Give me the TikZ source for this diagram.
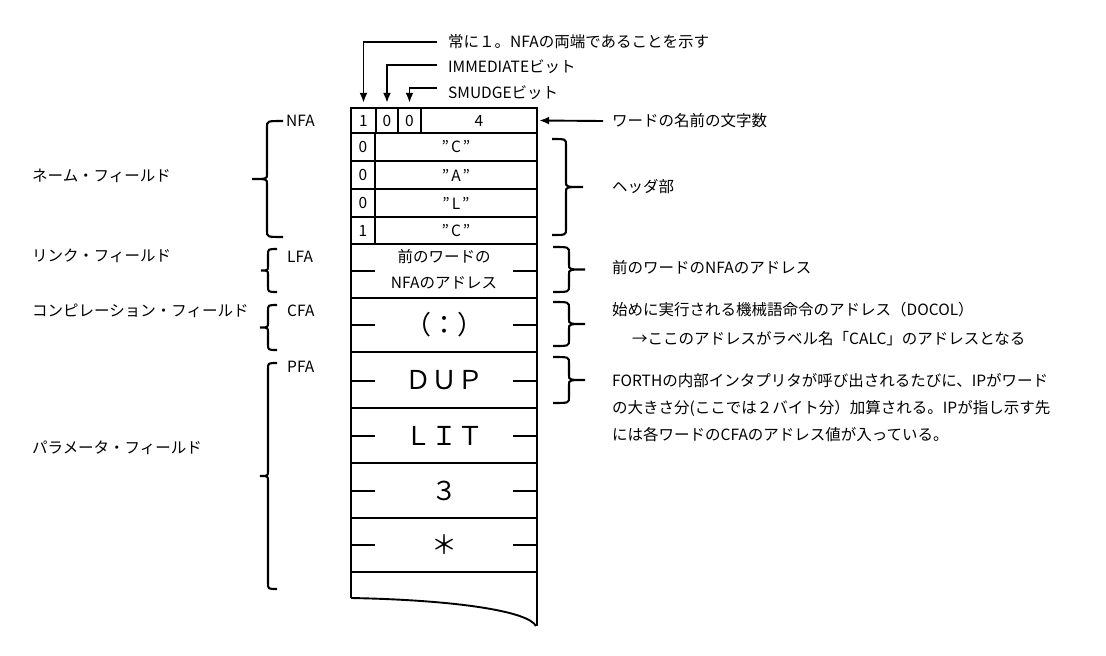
\documentclass[tikz,border=0pt]{standalone}
\usepackage{fontspec}
\setmainfont{Noto Sans CJK JP}
\usetikzlibrary{arrows.meta}
\newcommand\BrLeft[5]{% x, top, bottom, tip x, hook x
  \draw[brc] (#5,#2) .. controls (#1,#2) .. (#1,#2+6) -- (#1,{(#2+#3)/2-5})
    .. controls (#1,{(#2+#3)/2}) .. (#4,{(#2+#3)/2})
    .. controls (#1,{(#2+#3)/2}) .. (#1,{(#2+#3)/2+5}) -- (#1,#3-6)
    .. controls (#1,#3) .. (#5,#3);}
\begin{document}
\begin{tikzpicture}[x=1pt,y=-1pt,
  tbl/.style={line width=2.3pt},
  arr/.style={line width=1.9pt,-{Latex[length=10pt,width=8pt]}},
  brc/.style={line width=2.1pt},
  lbl/.style={font=\fontsize{15.5}{18}\selectfont,inner sep=0pt,anchor=west},
  cell/.style={font=\fontsize{15.5}{18}\selectfont,inner sep=0pt},
  big/.style={font=\fontsize{26}{30}\selectfont,inner sep=0pt}]
\useasboundingbox (0,0) rectangle (1106,656);
% table outline
\draw[tbl] (351,598) -- (351,108) -- (537,108) -- (537,626);
\draw[line width=1.9pt] (351,598) .. controls (455,600) and (528,611) .. (536,626);
\foreach \y in {133,161,189,217,244,298,352,408,463,518,572}
  \draw[tbl] (351,\y) -- (537,\y);
\draw[tbl] (376,108) -- (376,133);
\draw[tbl] (398,108) -- (398,133);
\draw[tbl] (421,108) -- (421,133);
\draw[tbl] (375,133) -- (375,244);
\foreach \y in {271,325,381,436,491,545}{
  \draw[tbl] (351,\y) -- (375,\y);
  \draw[tbl] (513,\y) -- (537,\y);}
% cells
\node[cell,minimum width=25pt,minimum height=25pt] (b1) at (363.5,120.5) {1};
\node[cell,minimum width=22pt,minimum height=25pt] (b2) at (387,120.5) {0};
\node[cell,minimum width=23pt,minimum height=25pt] (b3) at (409.5,120.5) {0};
\node[cell,minimum width=116pt,minimum height=25pt] (b4) at (479,120.5) {4};
\node[cell] (f1) at (363,147) {0};
\node[cell] (c1) at (456,147) {"\hspace{2pt}C\hspace{2pt}"};
\node[cell] (f2) at (363,175) {0};
\node[cell] (c2) at (456,175) {"\hspace{2pt}A\hspace{2pt}"};
\node[cell] (f3) at (363,203) {0};
\node[cell] (c3) at (456,203) {"\hspace{2pt}L\hspace{2pt}"};
\node[cell] (f4) at (363,230.5) {1};
\node[cell] (c4) at (456,230.5) {"\hspace{2pt}C\hspace{2pt}"};
\node[cell] (lfa1) at (444,257) {前のワードの};
\node[cell] (lfa2) at (444,283) {NFAのアドレス};
\node[big] (cfa) at (444,325) {（：）};
\node[big] (dup) at (444,380) {ＤＵＰ};
\node[big] (lit) at (444,436) {ＬＩＴ};
\node[big] (three) at (444,491) {３};
\node[big] (star) at (444,545) {＊};
% top labels and arrows
\node[lbl] (t1) at (448,42) {常に１。NFAの両端であることを示す};
\node[lbl] (t2) at (448,67) {IMMEDIATEビット};
\node[lbl] (t3) at (448,93) {SMUDGEビット};
\draw[arr] ([xshift=-11pt]t1.west) -| ([yshift=5pt]b1.north);
\draw[arr] ([xshift=-11pt,yshift=2pt]t2.west) -| ([yshift=5pt]b2.north);
\draw[arr] ([xshift=-11pt,yshift=5pt]t3.west) -| ([yshift=5pt]b3.north);
% right labels
\node[lbl] (nm) at (612,121) {ワードの名前の文字数};
\draw[arr] ([xshift=-9pt]nm.west) -- ([xshift=2pt]b4.east);
\node[lbl] (hd) at (612,187) {ヘッダ部};
\node[lbl] (r1) at (612,268) {前のワードのNFAのアドレス};
\node[lbl] (r2) at (612,310) {始めに実行される機械語命令のアドレス（DOCOL）};
\node[lbl] (r3) at (632,339) {→ここのアドレスがラベル名「CALC」のアドレスとなる};
\node[lbl] (r4) at (612,381) {FORTHの内部インタプリタが呼び出されるたびに、IPがワード};
\node[lbl] (r5) at (612,408) {の大きさ分(ここでは２バイト分）加算される。IPが指し示す先};
\node[lbl] (r6) at (612,435) {には各ワードのCFAのアドレス値が入っている。};
% left labels
\node[lbl] (l1) at (32,176) {ネーム・フィールド};
\node[lbl] (l2) at (32,256) {リンク・フィールド};
\node[lbl] (l3) at (32,311) {コンピレーション・フィールド};
\node[lbl] (l4) at (32,448) {パラメータ・フィールド};
\node[lbl] (nfa) at (286,121) {NFA};
\node[lbl] (lfa) at (287,257) {LFA};
\node[lbl] (cfal) at (287,311) {CFA};
\node[lbl] (pfa) at (287,367) {PFA};
% left braces
\BrLeft{267}{121}{237}{252}{283}
\BrLeft{268}{249}{292}{261}{277}
\BrLeft{268}{305}{350}{260}{277}
\BrLeft{268}{363}{589}{260}{277}
% right braces
\BrLeft{566}{139}{235}{583}{552}
\BrLeft{569}{247}{292}{585}{553}
\BrLeft{569}{302}{346}{585}{553}
\BrLeft{569}{357}{403}{585}{553}
\end{tikzpicture}
\end{document}
